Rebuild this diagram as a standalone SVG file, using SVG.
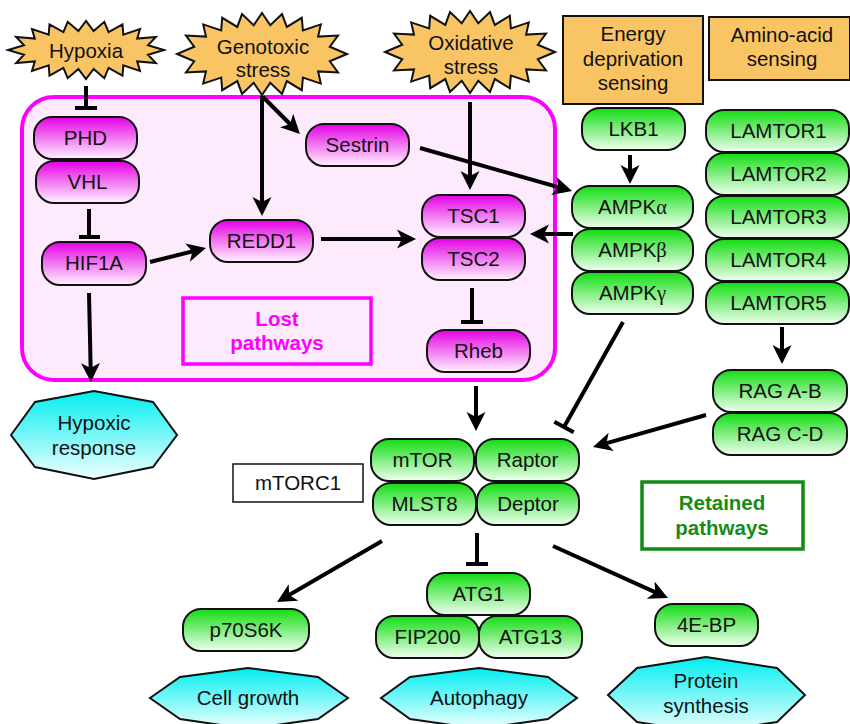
<svg xmlns="http://www.w3.org/2000/svg" xmlns:xlink="http://www.w3.org/1999/xlink" width="850" height="724" viewBox="0 0 850 724">
<defs>
<linearGradient id="gm" x1="0" y1="0" x2="0" y2="1"><stop offset="0" stop-color="#e400e4"/><stop offset="1" stop-color="#fff2ff"/></linearGradient>
<linearGradient id="gg" x1="0" y1="0" x2="0" y2="1"><stop offset="0" stop-color="#12dc12"/><stop offset="1" stop-color="#efffef"/></linearGradient>
<linearGradient id="gc" x1="0" y1="0" x2="0" y2="1"><stop offset="0" stop-color="#00eef0"/><stop offset="1" stop-color="#f0ffff"/></linearGradient>
<polygon id="starG" points="347,54 329.8,61.3 338,72.4 318.1,71.4 320.8,83.6 302.9,77.6 301.8,90.2 286.8,81.1 282,93.9 270.3,82.8 262,95 253.7,82.8 242,93.9 237.3,81.1 222.2,90.2 221.2,77.6 203.2,83.6 206,71.4 186,72.4 194.2,61.3 177,54 194.2,46.7 186,35.6 206,36.6 203.2,24.4 221.2,30.4 222.2,17.8 237.3,26.9 242,14.1 253.7,25.2 262,13 270.3,25.2 282,14.1 286.8,26.9 301.8,17.8 302.9,30.4 320.8,24.4 318.1,36.6 338,35.6 329.8,46.7"/>
<marker id="ah" markerUnits="userSpaceOnUse" markerWidth="20" markerHeight="20" viewBox="0 0 20 20" refX="12" refY="10" orient="auto"><path d="M0,0.5 L19,10 L0,19.5 L5,10 z" fill="#000"/></marker>
<style>
text{font-family:"Liberation Sans",Arial,Helvetica,sans-serif;font-size:20.5px;text-anchor:middle;fill:#111}
.m rect{fill:url(#gm);stroke:#111;stroke-width:2}
.g rect{fill:url(#gg);stroke:#111;stroke-width:2}
.h polygon{fill:url(#gc);stroke:#111;stroke-width:2}
.s polygon,.s use{fill:#f9c564;stroke:#111;stroke-width:2}
.o rect{fill:#f9c564;stroke:#111;stroke-width:2}
.c line{stroke:#000;stroke-width:4}
.gr{font-family:"Liberation Serif","Times New Roman",serif}
</style>
</defs>
<rect width="850" height="724" fill="#fff"/>

<g id="lost-region">
<rect x="22" y="97" width="533" height="283" rx="32" fill="#fdebfd" stroke="#ff00ff" stroke-width="4"/>
</g>
<g id="lost-label">
<rect x="183" y="298" width="188" height="66" fill="none" stroke="#ff00ff" stroke-width="3.5"/>
<text x="277" y="326" style="fill:#ff00ff;font-weight:bold">Lost</text>
<text x="277" y="350" style="fill:#ff00ff;font-weight:bold">pathways</text>
</g>

<g id="hypoxia" class="s"><polygon points="164,50 148,54.8 155.8,63 137.2,61.4 140,70.9 123.3,65.4 122.5,75.6 108.6,67.8 104.3,78.2 93.6,68.9 86,79 78.4,68.9 67.7,78.2 63.4,67.8 49.5,75.6 48.7,65.4 32,70.9 34.8,61.4 16.2,63 24,54.8 8,50 24,45.2 16.2,37 34.8,38.6 32,29.1 48.7,34.6 49.5,24.4 63.4,32.2 67.7,21.8 78.4,31.1 86,21 93.6,31.1 104.3,21.8 108.6,32.2 122.5,24.4 123.3,34.6 140,29.1 137.2,38.6 155.8,37 148,45.2"/><text x="86" y="58">Hypoxia</text></g>
<g id="genotoxic" class="s"><use xlink:href="#starG"/><text x="263" y="54">Genotoxic</text><text x="263" y="77">stress</text></g>
<g id="oxidative" class="s"><use xlink:href="#starG" transform="translate(208,-2)"/><text x="471" y="50">Oxidative</text><text x="471" y="74">stress</text></g>

<g id="energy" class="o"><rect x="563" y="16" width="140" height="88"/><text x="633" y="41">Energy</text><text x="633" y="66">deprivation</text><text x="633" y="90">sensing</text></g>
<g id="aminoacid" class="o"><rect x="709" y="17" width="141" height="63"/><text x="782" y="42">Amino-acid</text><text x="782" y="66">sensing</text></g>

<g id="PHD" class="m"><rect x="34" y="117" width="103" height="42" rx="18"/><text x="85.5" y="145">PHD</text></g>
<g id="VHL" class="m"><rect x="36" y="161" width="103" height="42" rx="18"/><text x="87.5" y="189">VHL</text></g>
<g id="HIF1A" class="m"><rect x="42" y="242" width="104" height="43" rx="18"/><text x="94" y="270">HIF1A</text></g>
<g id="REDD1" class="m"><rect x="210" y="220" width="103" height="42" rx="18"/><text x="261.5" y="248">REDD1</text></g>
<g id="Sestrin" class="m"><rect x="306" y="124" width="103" height="42" rx="18"/><text x="357.5" y="152">Sestrin</text></g>
<g id="TSC1" class="m"><rect x="422" y="195" width="103" height="42" rx="18"/><text x="473.5" y="223">TSC1</text></g>
<g id="TSC2" class="m"><rect x="422" y="238" width="103" height="42" rx="18"/><text x="473.5" y="266">TSC2</text></g>
<g id="Rheb" class="m"><rect x="427" y="330" width="103" height="42" rx="18"/><text x="478.5" y="358">Rheb</text></g>

<g id="LKB1" class="g"><rect x="582" y="108" width="103" height="42" rx="18"/><text x="633.5" y="136">LKB1</text></g>
<g id="AMPKa" class="g"><rect x="572" y="186" width="121" height="42" rx="18"/><text x="632.5" y="214">AMPK<tspan class="gr">α</tspan></text></g>
<g id="AMPKb" class="g"><rect x="572" y="229" width="121" height="42" rx="18"/><text x="632.5" y="257">AMPK<tspan class="gr">β</tspan></text></g>
<g id="AMPKg" class="g"><rect x="572" y="272" width="121" height="42" rx="18"/><text x="632.5" y="300">AMPK<tspan class="gr">γ</tspan></text></g>

<g id="LAMTOR1" class="g"><rect x="706" y="110" width="143" height="42" rx="18"/><text x="778.5" y="138">LAMTOR1</text></g>
<g id="LAMTOR2" class="g"><rect x="706" y="153" width="143" height="42" rx="18"/><text x="778.5" y="181">LAMTOR2</text></g>
<g id="LAMTOR3" class="g"><rect x="706" y="196" width="143" height="42" rx="18"/><text x="778.5" y="224">LAMTOR3</text></g>
<g id="LAMTOR4" class="g"><rect x="706" y="239" width="143" height="42" rx="18"/><text x="778.5" y="267">LAMTOR4</text></g>
<g id="LAMTOR5" class="g"><rect x="706" y="282" width="143" height="42" rx="18"/><text x="778.5" y="310">LAMTOR5</text></g>

<g id="RAGAB" class="g"><rect x="713" y="370" width="134" height="42" rx="18"/><text x="780" y="398">RAG A-B</text></g>
<g id="RAGCD" class="g"><rect x="713" y="413" width="134" height="42" rx="18"/><text x="780" y="441">RAG C-D</text></g>

<g id="mTOR" class="g"><rect x="371" y="439" width="103" height="42" rx="18"/><text x="422.5" y="467">mTOR</text></g>
<g id="Raptor" class="g"><rect x="476" y="439" width="103" height="42" rx="18"/><text x="527.5" y="467">Raptor</text></g>
<g id="MLST8" class="g"><rect x="373" y="483" width="103" height="42" rx="18"/><text x="424.5" y="511">MLST8</text></g>
<g id="Deptor" class="g"><rect x="477" y="483" width="102" height="42" rx="18"/><text x="528" y="511">Deptor</text></g>

<g id="mTORC1"><rect x="233" y="464" width="130" height="38" fill="#fff" stroke="#111" stroke-width="1.5"/><text x="298" y="490">mTORC1</text></g>
<g id="retained"><rect x="642" y="482" width="161" height="67" fill="#fff" stroke="#138a13" stroke-width="3.5"/><text x="722" y="510" style="fill:#168c16;font-weight:bold">Retained</text><text x="722" y="535" style="fill:#168c16;font-weight:bold">pathways</text></g>

<g id="ATG1" class="g"><rect x="427" y="573" width="103" height="42" rx="18"/><text x="478.5" y="601">ATG1</text></g>
<g id="FIP200" class="g"><rect x="376" y="616" width="103" height="42" rx="18"/><text x="427.5" y="644">FIP200</text></g>
<g id="ATG13" class="g"><rect x="479" y="616" width="103" height="42" rx="18"/><text x="530.5" y="644">ATG13</text></g>
<g id="p70S6K" class="g"><rect x="183" y="609" width="126" height="42" rx="18"/><text x="246" y="637">p70S6K</text></g>
<g id="4EBP" class="g"><rect x="655" y="604" width="103" height="42" rx="18"/><text x="706.5" y="632">4E-BP</text></g>

<g id="hypoxic-response" class="h"><polygon points="11,435 35,402 94,391 153,402 177,435 153,467 94,479 35,467"/><text x="94" y="430">Hypoxic</text><text x="94" y="455">response</text></g>
<g id="cell-growth" class="h"><polygon points="150,698 180,677 248,668 318,677 348,698 318,719 248,729 180,719"/><text x="248" y="705">Cell growth</text></g>
<g id="autophagy" class="h"><polygon points="381,698 410,677 479,668 548,677 577,698 548,719 479,729 410,719"/><text x="479" y="705">Autophagy</text></g>
<g id="protein-synthesis" class="h"><polygon points="608,695 637,668 706,657 777,668 805,695 777,722 706,733 637,722"/><text x="706" y="688">Protein</text><text x="706" y="713">synthesis</text></g>

<g id="connectors" class="c">
<line x1="86" y1="86" x2="86" y2="108"/><line x1="75" y1="108" x2="97" y2="108"/>
<line x1="89" y1="209" x2="89" y2="237"/><line x1="79" y1="237" x2="100" y2="237"/>
<line x1="89" y1="293" x2="90.8" y2="375" marker-end="url(#ah)"/>
<line x1="150" y1="262" x2="199.2" y2="249.7" marker-end="url(#ah)"/>
<line x1="262" y1="96" x2="262" y2="209" marker-end="url(#ah)"/>
<line x1="263" y1="97" x2="295" y2="129" marker-end="url(#ah)"/>
<line x1="321" y1="239" x2="409" y2="239" marker-end="url(#ah)"/>
<line x1="470" y1="102" x2="470" y2="183" marker-end="url(#ah)"/>
<line x1="420" y1="148" x2="565.3" y2="189.1" marker-end="url(#ah)"/>
<line x1="630" y1="155" x2="630" y2="177" marker-end="url(#ah)"/>
<line x1="573" y1="234" x2="537" y2="234" marker-end="url(#ah)"/>
<line x1="472" y1="288" x2="472" y2="322"/><line x1="461" y1="322" x2="483" y2="322"/>
<line x1="476" y1="386" x2="476" y2="424" marker-end="url(#ah)"/>
<line x1="623" y1="322" x2="564" y2="427"/><line x1="554.3" y1="421.8" x2="573.7" y2="432.2"/>
<line x1="706" y1="415" x2="599.7" y2="445.1" marker-end="url(#ah)"/>
<line x1="782" y1="327" x2="782" y2="357" marker-end="url(#ah)"/>
<line x1="382" y1="541" x2="283.1" y2="598.5" marker-end="url(#ah)"/>
<line x1="477" y1="533" x2="477" y2="564"/><line x1="466" y1="564" x2="488" y2="564"/>
<line x1="553" y1="546" x2="661.6" y2="595.1" marker-end="url(#ah)"/>
</g>
</svg>
